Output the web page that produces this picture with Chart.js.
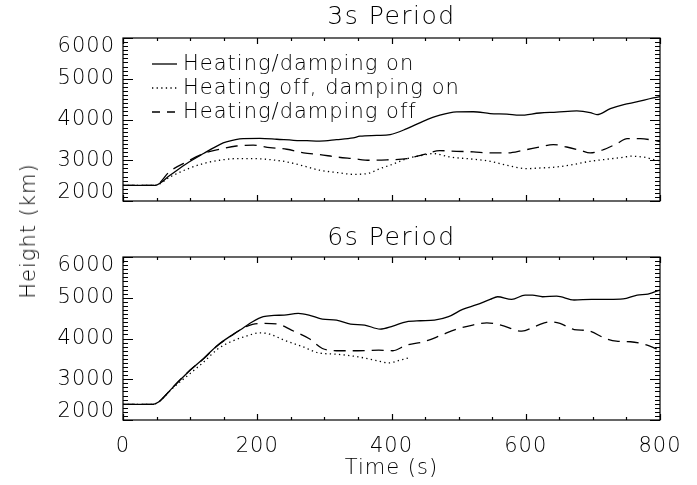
<!DOCTYPE html>
<html>
<head>
<meta charset="utf-8">
<script src="https://cdn.jsdelivr.net/npm/chart.js@4.4.1/dist/chart.umd.min.js"></script>
<style>
  body { margin: 0; background: #fff; }
  #wrap { position: relative; width: 697px; height: 485px; overflow: hidden; }
  #wrap canvas { position: absolute; left: 0; }
  #ylabel {
    position: absolute; left: 28px; top: 231px;
    transform: translate(-50%, -50%) rotate(-90deg);
    white-space: nowrap; color: #000;
    font: 200 21px 'DejaVu Sans', sans-serif; letter-spacing: 1px;
  }
</style>
</head>
<body>
<div id="wrap">
  <canvas id="top" width="697" height="222" style="top:0"></canvas>
  <canvas id="bottom" width="697" height="263" style="top:222px"></canvas>
  <div id="ylabel">Height (km)</div>
</div>
<script>
const seriesLabels = ['Heating/damping on', 'Heating off, damping on', 'Heating/damping off'];
const xTickLabels = [0, 200, 400, 600, 800];
const yTickLabels = [2000, 3000, 4000, 5000, 6000];

// 3s period
const p3OnTime = [0, 48, 70, 95, 120, 144, 154, 179, 204, 229, 254, 274, 293, 318, 343, 353, 378, 398, 423, 447, 472, 497, 522, 547, 572, 591, 621, 646, 676, 696, 706, 726, 746, 765, 790, 800];
const p3OnHeight = [2385, 2385, 2630, 2920, 3165, 3385, 3450, 3530, 3535, 3515, 3490, 3480, 3470, 3505, 3550, 3590, 3610, 3630, 3775, 3955, 4105, 4185, 4190, 4145, 4130, 4105, 4160, 4180, 4210, 4170, 4120, 4265, 4365, 4430, 4530, 4560];
const p3DampTime = [0, 48, 70, 95, 120, 144, 169, 194, 219, 244, 269, 293, 318, 343, 363, 383, 403, 423, 447, 462, 487, 522, 547, 572, 601, 621, 646, 671, 696, 721, 746, 756, 776, 795, 800];
const p3DampHeight = [2385, 2385, 2590, 2780, 2920, 3000, 3040, 3040, 3015, 2960, 2860, 2755, 2700, 2655, 2670, 2795, 2910, 3040, 3125, 3165, 3080, 3025, 2975, 2875, 2795, 2810, 2835, 2895, 2975, 3025, 3075, 3100, 3075, 3000, 2990];
const p3OffTime = [0, 48, 70, 95, 120, 144, 169, 194, 219, 244, 269, 293, 318, 343, 368, 393, 423, 447, 472, 497, 522, 547, 572, 596, 621, 641, 661, 681, 696, 716, 736, 751, 771, 790, 800];
const p3OffHeight = [2385, 2385, 2730, 2960, 3165, 3270, 3350, 3370, 3310, 3270, 3180, 3140, 3080, 3040, 3000, 3010, 3040, 3140, 3235, 3220, 3205, 3180, 3180, 3245, 3325, 3385, 3325, 3245, 3180, 3260, 3410, 3530, 3530, 3490, 3460];

// 6s period
const p6OnTime = [0, 45, 53, 61, 74, 100, 120, 141, 162, 178, 193, 209, 225, 240, 261, 277, 297, 318, 339, 360, 383, 402, 422, 443, 464, 485, 506, 527, 547, 558, 579, 599, 610, 625, 646, 672, 698, 724, 745, 766, 782, 800];
const p6OnHeight = [2385, 2385, 2440, 2565, 2795, 3220, 3510, 3835, 4080, 4245, 4410, 4535, 4565, 4575, 4615, 4575, 4475, 4450, 4355, 4330, 4230, 4305, 4410, 4435, 4450, 4535, 4715, 4830, 4960, 5025, 4960, 5065, 5065, 5025, 5040, 4945, 4960, 4960, 4970, 5065, 5090, 5190];
const p6DampTime = [0, 45, 53, 61, 74, 100, 120, 141, 162, 183, 204, 219, 240, 266, 292, 318, 350, 376, 396, 412, 428];
const p6DampHeight = [2385, 2385, 2440, 2560, 2780, 3140, 3420, 3740, 3930, 4055, 4140, 4105, 3960, 3810, 3645, 3615, 3550, 3465, 3400, 3465, 3535];
const p6OffTime = [0, 45, 53, 61, 74, 100, 120, 141, 162, 178, 193, 209, 230, 251, 277, 297, 318, 350, 381, 402, 422, 448, 474, 495, 521, 542, 563, 594, 615, 636, 651, 672, 693, 719, 735, 756, 776, 800];
const p6OffHeight = [2385, 2385, 2440, 2565, 2800, 3225, 3500, 3830, 4075, 4245, 4345, 4370, 4355, 4205, 4000, 3755, 3700, 3700, 3715, 3700, 3835, 3920, 4080, 4220, 4330, 4385, 4330, 4180, 4305, 4410, 4370, 4220, 4190, 4000, 3935, 3920, 3860, 3715];

const FONT = "'DejaVu Sans', sans-serif";
const X_MINOR = 50, Y_MINOR = 100;
const SOLID = [], DOTTED = [1.3, 3.3], DASHED = [12, 7];

const toPoints = (times, heights) => times.map((t, i) => ({ x: t, y: heights[i] }));

function makeDataset(label, times, heights, dash) {
  return {
    label,
    data: toPoints(times, heights),
    borderColor: '#000',
    borderWidth: 1.3,
    borderDash: dash,
    borderCapStyle: 'butt',
    pointRadius: 0,
    fill: false,
    cubicInterpolationMode: 'monotone'
  };
}

// IDL-style box: inward ticks on all four sides, labels, title, optional legend
function idlFrame(cfg) {
  return {
    id: 'idlFrame',
    afterDatasetsDraw(chart) {
      const ctx = chart.ctx;
      const { left, right, top, bottom } = chart.chartArea;
      const xs = chart.scales.x, ys = chart.scales.y;
      ctx.save();
      ctx.strokeStyle = '#000';
      ctx.fillStyle = '#000';
      ctx.lineWidth = 1.2;
      ctx.setLineDash([]);
      ctx.strokeRect(left, top, right - left, bottom - top);

      ctx.beginPath();
      for (let t = xs.min; t <= xs.max; t += X_MINOR) {
        const px = Math.round(xs.getPixelForValue(t)) + 0.5;
        const len = xTickLabels.includes(t) ? 6 : 3;
        ctx.moveTo(px, bottom); ctx.lineTo(px, bottom - len);
        ctx.moveTo(px, top); ctx.lineTo(px, top + len);
      }
      for (let v = ys.min; v <= ys.max; v += Y_MINOR) {
        const py = Math.round(ys.getPixelForValue(v)) + 0.5;
        const len = yTickLabels.includes(v) ? 10 : 5;
        ctx.moveTo(left, py); ctx.lineTo(left + len, py);
        ctx.moveTo(right, py); ctx.lineTo(right - len, py);
      }
      ctx.stroke();

      ctx.letterSpacing = '1px';
      ctx.font = '200 21px ' + FONT;
      ctx.textAlign = 'right';
      ctx.textBaseline = 'middle';
      yTickLabels.forEach(v => {
        let py = ys.getPixelForValue(v);
        py = Math.min(Math.max(py, top + 9), bottom - 8);
        ctx.fillText(String(v), left - 8, py);
      });

      if (cfg.xLabels) {
        ctx.textAlign = 'center';
        xTickLabels.forEach(t => {
          ctx.fillText(String(t), xs.getPixelForValue(t), bottom + 27);
        });
        ctx.fillText('Time (s)', (left + right) / 2, bottom + 49);
      }

      ctx.font = '200 25px ' + FONT;
      ctx.letterSpacing = '1.5px';
      ctx.textAlign = 'center';
      ctx.fillText(cfg.title, (left + right) / 2, cfg.titleY);

      if (cfg.legend) {
        ctx.font = '200 21px ' + FONT;
        ctx.letterSpacing = '1px';
        ctx.textAlign = 'left';
        chart.data.datasets.forEach((ds, i) => {
          const y = 64 + i * 24;
          ctx.beginPath();
          ctx.setLineDash(i === 2 ? [8, 7] : ds.borderDash);
          ctx.lineWidth = 1.3;
          ctx.moveTo(152, y); ctx.lineTo(177, y);
          ctx.stroke();
          ctx.fillText(ds.label, 183, y + 1);
        });
      }
      ctx.restore();
    }
  };
}

function makeChart(id, datasets, padding, cfg) {
  return new Chart(document.getElementById(id), {
    type: 'line',
    data: { datasets },
    options: {
      responsive: false,
      animation: false,
      layout: { padding },
      scales: {
        x: { type: 'linear', min: 0, max: 800, display: false },
        y: { type: 'linear', min: 2000, max: 6000, display: false }
      },
      plugins: { legend: { display: false }, tooltip: { enabled: false } }
    },
    plugins: [idlFrame(cfg)]
  });
}

makeChart('top', [
  makeDataset(seriesLabels[0], p3OnTime, p3OnHeight, SOLID),
  makeDataset(seriesLabels[1], p3DampTime, p3DampHeight, DOTTED),
  makeDataset(seriesLabels[2], p3OffTime, p3OffHeight, DASHED)
], { left: 123, right: 37, top: 38, bottom: 21 }, { title: '3s Period', titleY: 17, legend: true, xLabels: false });

makeChart('bottom', [
  makeDataset(seriesLabels[0], p6OnTime, p6OnHeight, SOLID),
  makeDataset(seriesLabels[1], p6DampTime, p6DampHeight, DOTTED),
  makeDataset(seriesLabels[2], p6OffTime, p6OffHeight, DASHED)
], { left: 123, right: 37, top: 35, bottom: 65 }, { title: '6s Period', titleY: 16, legend: false, xLabels: true });
</script>
</body>
</html>
